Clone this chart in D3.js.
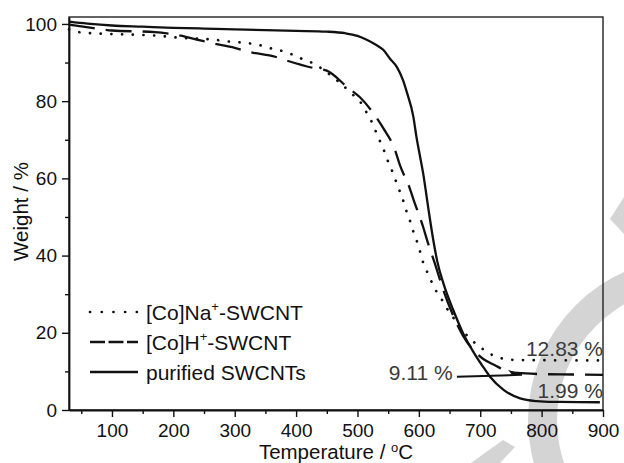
<!DOCTYPE html>
<html>
<head>
<meta charset="utf-8">
<script src="https://cdn.jsdelivr.net/npm/d3@7"></script>
<style>
  body { margin: 0; background: #fff; }
  svg { display: block; }
</style>
</head>
<body>
<div id="tga_chart"></div>
<script>
// series (temperature in °C, weight in %)
const series_names = ["[Co]Na+-SWCNT", "[Co]H+-SWCNT", "purified SWCNTs"];

const na_temp   = [30, 45, 80, 120, 170, 222, 262, 287, 311, 338, 363, 382, 395, 409, 425, 442, 465, 493, 506, 515, 523, 530, 537, 544, 550, 557, 563, 569, 575, 580, 586, 591, 597, 602, 607, 614, 621, 629, 639, 648, 659, 667, 679, 691, 705, 719, 732, 750, 800, 850, 900];
const na_weight = [98.6, 97.9, 97.5, 97.3, 97.0, 96.3, 96.0, 95.5, 95.2, 94.6, 93.5, 92.8, 92.0, 91.0, 90.0, 88.4, 85.6, 81.6, 79.5, 77.0, 74.7, 72.1, 69.5, 66.9, 64.3, 61.7, 59.1, 56.6, 54.0, 51.4, 48.8, 46.2, 43.6, 41.0, 38.2, 35.6, 33.1, 30.6, 28.2, 25.7, 23.3, 21.4, 19.2, 17.4, 15.7, 14.3, 13.5, 13.0, 12.9, 12.85, 12.83];

const h_temp   = [30, 70, 100, 170, 200, 240, 260, 300, 325, 366, 387, 428, 450, 485, 504, 528, 542, 561, 569, 585, 592, 607, 613, 626, 640, 655, 672, 690, 705, 724, 740, 760, 800, 850, 900];
const h_weight = [99.8, 98.9, 98.3, 97.9, 97.3, 95.9, 95.1, 93.8, 92.7, 91.5, 90.4, 88.6, 87.9, 83.4, 81.0, 76.4, 73.0, 67.4, 63.5, 57.5, 54.2, 47.4, 44.2, 38.0, 31.0, 24.8, 19.2, 15.3, 13.2, 11.6, 10.3, 9.6, 9.3, 9.2, 9.11];

const pure_temp   = [30, 60, 100, 150, 200, 250, 300, 350, 400, 450, 480, 500, 515, 530, 542, 553, 564, 574, 581, 591, 596, 602, 607, 615, 623, 630, 640, 656, 672, 689, 705, 716, 738, 765, 792, 820, 860, 895];
const pure_weight = [100.6, 100.1, 99.6, 99.3, 99.0, 98.8, 98.6, 98.4, 98.2, 98.0, 97.6, 96.9, 95.9, 94.6, 93.3, 91.0, 88.9, 85.5, 82.0, 76.0, 70.8, 65.6, 61.3, 52.7, 44.5, 38.5, 32.8, 25.9, 19.9, 15.0, 11.1, 8.6, 5.2, 3.0, 2.3, 2.1, 2.05, 2.0];

const residue_values = [12.83, 9.11, 1.99];

const x_ticks = [100, 200, 300, 400, 500, 600, 700, 800, 900];
const x_minor = [50, 150, 250, 350, 450, 550, 650, 750, 850];
const y_ticks = [0, 20, 40, 60, 80, 100];
const y_minor = [10, 30, 50, 70, 90];

function tga_chart() {
    const margin = {top: 17, bottom: 53, left: 69, right: 21},
    width = 624 - margin.left - margin.right,
    height = 463 - margin.top - margin.bottom;
    const font = "'Liberation Sans', Arial, sans-serif";
    const ink = "#111";

    const svg = d3.select("#tga_chart").append("svg")
        .attr("width", 624)
        .attr("height", 463)
        .attr("font-family", font);

    // faint watermark behind the plot
    const wm = svg.append("g").attr("fill", "#d4d4d4");
    wm.append("path")
        .attr("transform", "translate(690,420)")
        .attr("d", d3.arc().innerRadius(133).outerRadius(162).startAngle(0).endAngle(2 * Math.PI)());
    wm.append("path").attr("d", "M610,219 L624,197 L624,234 Z");
    wm.append("path").attr("d", "M471,463 L503,440 L515,447 L500,463 Z");

    const plot_g = svg.append("g")
        .attr("transform", `translate(${margin.left},${margin.top})`);

    const x = d3.scaleLinear().domain([30, 900]).range([0, width]);
    const y = d3.scaleLinear().domain([0, 101.8]).range([height, 0]);

    // frame
    plot_g.append("rect")
        .attr("width", width)
        .attr("height", height)
        .attr("fill", "none")
        .attr("stroke", "#222")
        .attr("stroke-width", 1.4);

    // X Axis
    plot_g.append("g")
        .attr("transform", `translate(0, ${height})`)
        .call(d3.axisBottom(x).tickValues(x_ticks).tickSize(7).tickSizeOuter(0).tickPadding(7));
    plot_g.append("g")
        .attr("transform", `translate(0, ${height})`)
        .call(d3.axisBottom(x).tickValues(x_minor).tickSize(4).tickFormat(""))
        .call(g => g.select(".domain").remove());

    // Y Axis
    plot_g.append("g")
        .call(d3.axisLeft(y).tickValues(y_ticks).tickSize(7).tickSizeOuter(0).tickPadding(5));
    plot_g.append("g")
        .call(d3.axisLeft(y).tickValues(y_minor).tickSize(4).tickFormat(""))
        .call(g => g.select(".domain").remove());

    plot_g.selectAll(".domain").attr("stroke", ink).attr("stroke-width", 1.8);
    plot_g.selectAll(".tick line").attr("stroke", ink).attr("stroke-width", 1.4);
    plot_g.selectAll(".tick text")
        .attr("fill", ink)
        .attr("font-family", font)
        .attr("font-size", "19px");

    // axis titles
    const x_title = plot_g.append("text")
        .attr("x", width / 2)
        .attr("y", height + 49)
        .attr("text-anchor", "middle")
        .attr("font-size", "20.5px")
        .attr("fill", ink);
    x_title.append("tspan").text("Temperature / ");
    x_title.append("tspan").attr("font-size", "13px").attr("dy", -7).text("o");
    x_title.append("tspan").attr("dy", 7).text("C");

    svg.append("text")
        .attr("transform", `translate(28,${margin.top + height / 2 - 2}) rotate(-90)`)
        .attr("text-anchor", "middle")
        .attr("font-size", "20.5px")
        .attr("fill", ink)
        .text("Weight / %");

    // curves
    const styles = [
        {dash: "0.1,10.6", width: 2.7, cap: "round", legend_dash: "0.1,11.6"},
        {dash: "26,11", width: 2.3, cap: "butt", legend_dash: "15,3.5"},
        {dash: null, width: 2.3, cap: "butt", legend_dash: null}
    ];
    const series = [
        na_temp.map((t, i) => ({t: t, w: na_weight[i]})),
        h_temp.map((t, i) => ({t: t, w: h_weight[i]})),
        pure_temp.map((t, i) => ({t: t, w: pure_weight[i]}))
    ];
    const line = d3.line()
        .curve(d3.curveMonotoneX)
        .x(d => x(d.t))
        .y(d => y(d.w));

    series.forEach((data, i) => {
        plot_g.append("path")
            .datum(data)
            .attr("fill", "none")
            .attr("stroke", ink)
            .attr("stroke-width", styles[i].width)
            .attr("stroke-linecap", styles[i].cap)
            .attr("stroke-dasharray", styles[i].dash)
            .attr("d", line);
    });

    // legend
    const legend_g = svg.append("g").attr("transform", "translate(90,312)");
    series_names.forEach((name, i) => {
        const row = legend_g.append("g").attr("transform", `translate(0,${i * 30})`);
        row.append("line")
            .attr("x1", 0).attr("x2", 48)
            .attr("stroke", ink)
            .attr("stroke-width", styles[i].width)
            .attr("stroke-linecap", styles[i].cap)
            .attr("stroke-dasharray", styles[i].legend_dash);
        const label = row.append("text")
            .attr("x", 56)
            .attr("dy", "0.37em")
            .attr("font-size", "21px")
            .attr("fill", ink);
        const parts = name.split("+");
        label.append("tspan").text(parts[0]);
        if (parts.length > 1) {
            label.append("tspan").attr("font-size", "13px").attr("dy", -9).text("+");
            label.append("tspan").attr("dy", 9).text(parts[1]);
        }
    });

    // residue annotations
    const label_pos = [
        {t: 900, w: 13.9},
        {t: 655, w: 7.8},
        {t: 900, w: 3.1}
    ];
    residue_values.forEach((v, i) => {
        plot_g.append("text")
            .attr("x", x(label_pos[i].t))
            .attr("y", y(label_pos[i].w))
            .attr("text-anchor", "end")
            .attr("font-size", "21px")
            .attr("fill", "#3a3a3a")
            .text(v.toFixed(2) + " %");
    });

    // pointer from the 9.11 % label to the H+ plateau
    const x0 = x(662), y0 = y(8.6), x1 = x(768), y1 = y(9.11);
    plot_g.append("line")
        .attr("x1", x0).attr("y1", y0)
        .attr("x2", x1).attr("y2", y1)
        .attr("stroke", ink)
        .attr("stroke-width", 2);
    plot_g.append("path")
        .attr("d", `M${x1},${y1} L${x1 - 14},${y1 - 5} L${x1 - 10},${y1} Z`)
        .attr("fill", ink);

    return svg.node();
}

tga_chart();
</script>
</body>
</html>
